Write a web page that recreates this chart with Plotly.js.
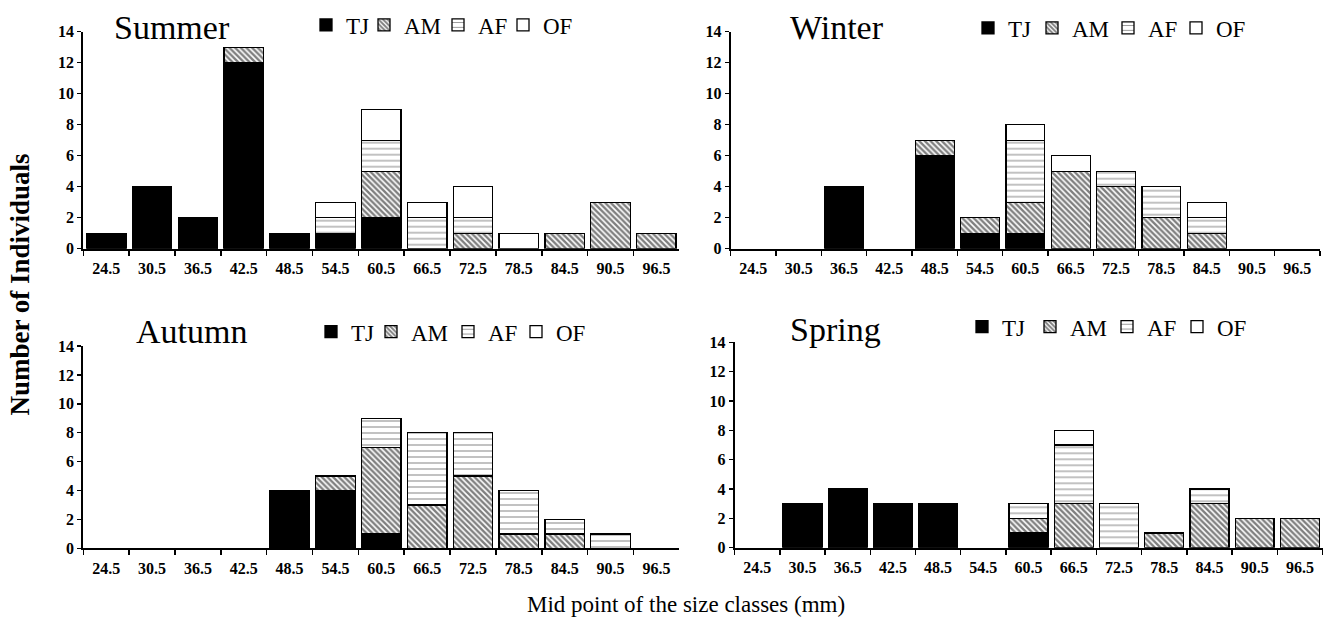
<!DOCTYPE html>
<html>
<head>
<meta charset="utf-8">
<script src="https://cdn.plot.ly/plotly-3.0.1.min.js"></script>
<style>
  html, body { margin: 0; padding: 0; background: #fff; }
  #chart { width: 1328px; height: 617px; }
</style>
</head>
<body>
<div id="chart"></div>
<script>
// ---- Data ----
const categories = ['24.5','30.5','36.5','42.5','48.5','54.5','60.5','66.5','72.5','78.5','84.5','90.5','96.5'];
const seriesNames = ['TJ', 'AM', 'AF', 'OF'];
const panelTitles = ['Summer', 'Winter', 'Autumn', 'Spring'];

const summerTJ = [1, 4, 2, 12, 1, 1, 2, 0, 0, 0, 0, 0, 0];
const summerAM = [0, 0, 0, 1, 0, 0, 3, 0, 1, 0, 1, 3, 1];
const summerAF = [0, 0, 0, 0, 0, 1, 2, 2, 1, 0, 0, 0, 0];
const summerOF = [0, 0, 0, 0, 0, 1, 2, 1, 2, 1, 0, 0, 0];

const winterTJ = [0, 0, 4, 0, 6, 1, 1, 0, 0, 0, 0, 0, 0];
const winterAM = [0, 0, 0, 0, 1, 1, 2, 5, 4, 2, 1, 0, 0];
const winterAF = [0, 0, 0, 0, 0, 0, 4, 0, 1, 2, 1, 0, 0];
const winterOF = [0, 0, 0, 0, 0, 0, 1, 1, 0, 0, 1, 0, 0];

const autumnTJ = [0, 0, 0, 0, 4, 4, 1, 0, 0, 0, 0, 0, 0];
const autumnAM = [0, 0, 0, 0, 0, 1, 6, 3, 5, 1, 1, 0, 0];
const autumnAF = [0, 0, 0, 0, 0, 0, 2, 5, 3, 3, 1, 1, 0];
const autumnOF = [0, 0, 0, 0, 0, 0, 0, 0, 0, 0, 0, 0, 0];

const springTJ = [0, 3, 4, 3, 3, 0, 1, 0, 0, 0, 0, 0, 0];
const springAM = [0, 0, 0, 0, 0, 0, 1, 3, 0, 1, 3, 2, 2];
const springAF = [0, 0, 0, 0, 0, 0, 1, 4, 3, 0, 1, 0, 0];
const springOF = [0, 0, 0, 0, 0, 0, 0, 1, 0, 0, 0, 0, 0];

const panelData = [
  [summerTJ, summerAM, summerAF, summerOF],
  [winterTJ, winterAM, winterAF, winterOF],
  [autumnTJ, autumnAM, autumnAF, autumnOF],
  [springTJ, springAM, springAF, springOF]
];

// ---- Styles ----
const W = 1328, H = 617;
const px = v => v / W;
const py = v => 1 - v / H;
const SERIF = 'Liberation Serif, Times New Roman, serif';

const seriesStyles = [
  { color: '#000000', pattern: { shape: '' } },
  { color: '#ffffff', pattern: { shape: '\\', fgcolor: '#000000', bgcolor: '#ffffff', size: 4, solidity: 0.6, fillmode: 'overlay' } },
  { color: '#ffffff', pattern: { shape: '-', fgcolor: '#000000', bgcolor: '#ffffff', size: 6, solidity: 0.16, fillmode: 'overlay' } },
  { color: '#ffffff', pattern: { shape: '' } }
];

const axisIds = [['x', 'y'], ['x2', 'y2'], ['x3', 'y3'], ['x4', 'y4']];
const legendId = k => (k === 0 ? 'legend' : 'legend' + (k + 1));

const traces = [];
panelData.forEach((series, p) => {
  series.forEach((vals, s) => {
    traces.push({
      type: 'bar',
      x: categories,
      // empty segments are not drawn (null), so they leave no outline
      y: vals.map(v => (v === 0 ? null : v)),
      name: seriesNames[s],
      xaxis: axisIds[p][0],
      yaxis: axisIds[p][1],
      legend: legendId(p * 4 + s),
      showlegend: true,
      marker: {
        color: seriesStyles[s].color,
        pattern: seriesStyles[s].pattern,
        line: { color: '#000000', width: 1.3 }
      },
      hoverinfo: 'skip'
    });
  });
});

// panel geometry (pixels)
const panels = [
  { x0: 83.3, x1: 679.3, yTop: 31.7, yBot: 248.7, title: { x: 111.5, y: 27 }, legX: [328, 386, 460, 525], legY: 25 },
  { x0: 730.7, x1: 1320, yTop: 31.7, yBot: 248.7, title: { x: 787.8, y: 27 }, legX: [990, 1054, 1130, 1198], legY: 28 },
  { x0: 83.3, x1: 679.3, yTop: 346, yBot: 548.3, title: { x: 133.8, y: 331 }, legX: [333, 393, 470, 538], legY: 331.7 },
  { x0: 734.6, x1: 1322.5, yTop: 342.3, yBot: 547.7, title: { x: 787.8, y: 329.5 }, legX: [984, 1052, 1129, 1199], legY: 326.7 }
];

const tickFont = { family: SERIF, size: 16, color: '#000', weight: 'bold' };

const layout = {
  width: W, height: H,
  margin: { l: 0, r: 0, t: 0, b: 0 },
  paper_bgcolor: '#fff',
  plot_bgcolor: 'rgba(0,0,0,0)',
  barmode: 'stack',
  bargap: 0.14,
  annotations: [],
  font: { family: SERIF, color: '#000' }
};

panels.forEach((pn, i) => {
  const n = i === 0 ? '' : String(i + 1);
  layout['xaxis' + n] = {
    domain: [px(pn.x0), px(pn.x1)],
    anchor: 'y' + n,
    type: 'category',
    range: [-0.5, categories.length - 0.5],
    tickson: 'boundaries',
    ticks: 'outside', ticklen: 5, tickwidth: 1.5, tickcolor: '#000',
    ticklabelstandoff: 4,
    showline: true, linecolor: '#000', linewidth: 2,
    showgrid: false, zeroline: false,
    tickfont: tickFont,
    fixedrange: true
  };
  layout['yaxis' + n] = {
    domain: [py(pn.yBot), py(pn.yTop)],
    anchor: 'x' + n,
    range: [0, 14], tick0: 0, dtick: 2,
    ticks: 'outside', ticklen: 4, tickwidth: 1.5, tickcolor: '#000',
    showline: true, linecolor: '#000', linewidth: 2,
    showgrid: false, zeroline: false,
    tickfont: tickFont,
    fixedrange: true
  };
  pn.legX.forEach((cx, s) => {
    layout[legendId(i * 4 + s)] = {
      orientation: 'h',
      x: px(cx - 22), xanchor: 'left',
      y: py(pn.legY), yanchor: 'middle',
      font: { family: SERIF, size: 23, color: '#000' },
      itemwidth: 30,
      bgcolor: 'rgba(0,0,0,0)',
      borderwidth: 0
    };
  });
  layout.annotations.push({
    xref: 'paper', yref: 'paper',
    x: px(pn.title.x), y: py(pn.title.y),
    xanchor: 'left', yanchor: 'middle',
    text: panelTitles[i],
    showarrow: false,
    font: { family: SERIF, size: 34, color: '#000' }
  });
});

layout.annotations.push({
  xref: 'paper', yref: 'paper',
  x: px(685.5), y: py(604),
  xanchor: 'center', yanchor: 'middle',
  text: 'Mid point of the size classes (mm)',
  showarrow: false,
  font: { family: SERIF, size: 23, color: '#000' }
});
layout.annotations.push({
  xref: 'paper', yref: 'paper',
  x: px(19), y: py(284.5),
  xanchor: 'center', yanchor: 'middle',
  text: 'Number of Individuals',
  textangle: -90,
  showarrow: false,
  font: { family: SERIF, size: 27, color: '#000', weight: 'bold' }
});

Plotly.newPlot('chart', traces, layout, { displayModeBar: false, staticPlot: true });
</script>
</body>
</html>
